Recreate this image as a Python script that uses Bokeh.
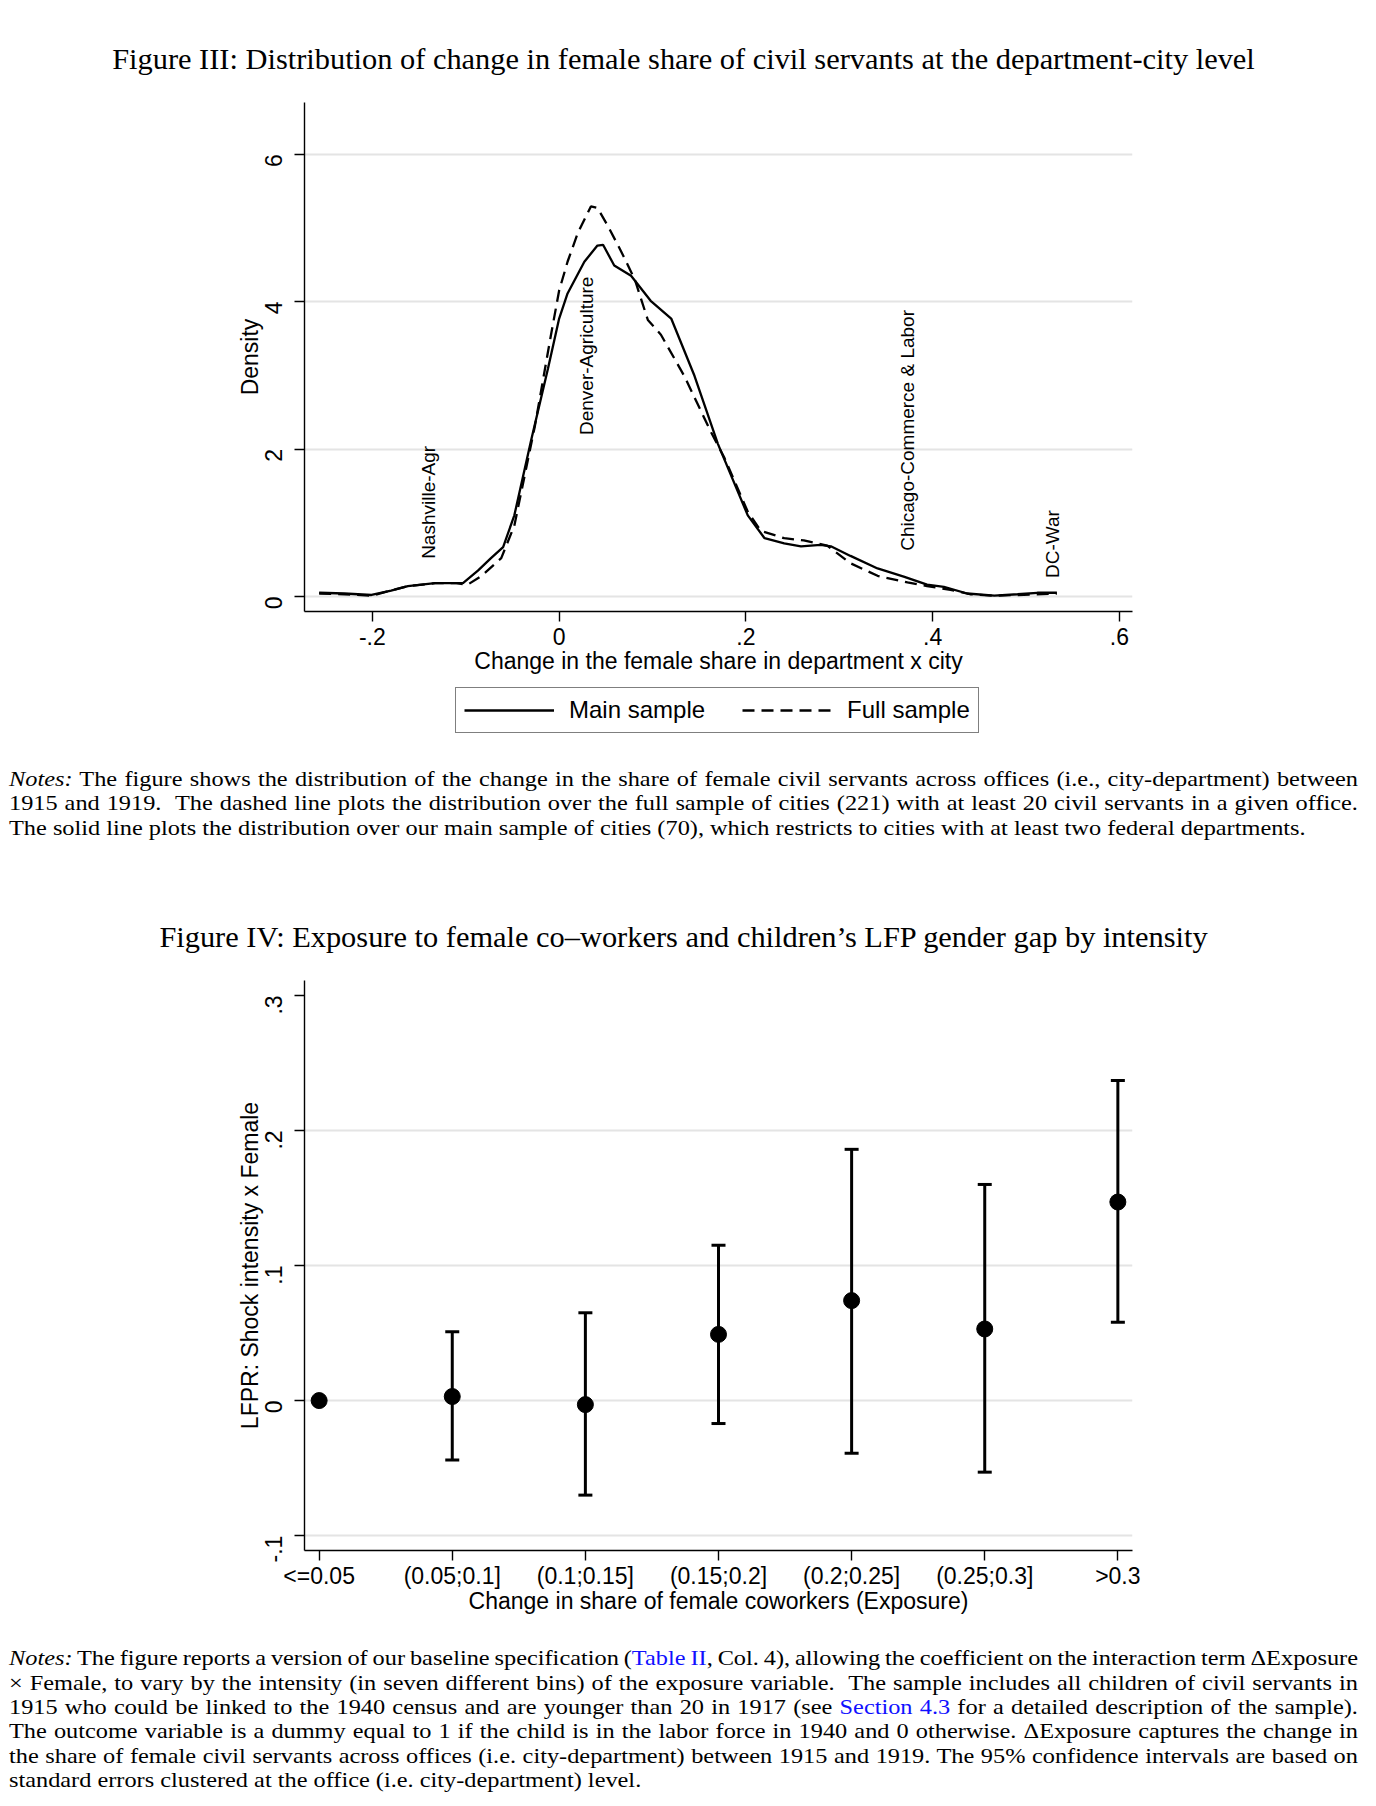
import math
import numpy as np
from bokeh.plotting import figure
from bokeh.models import (ColumnDataSource, Range1d, FixedTicker, Legend, LegendItem,
                          Whisker, TeeHead, Div)
from bokeh.layouts import column
from bokeh.core.properties import value
from bokeh.embed import file_html
from bokeh.resources import INLINE

# ---------------- Figure III data (kernel densities) ----------------
main_x = [-0.257, -0.230, -0.201, -0.180, -0.162, -0.133, -0.103, -0.087, -0.073, -0.060,
          -0.048, -0.030, -0.012, 0.000, 0.009, 0.027, 0.041, 0.047, 0.059, 0.077,
          0.098, 0.120, 0.145, 0.170, 0.202, 0.220, 0.241, 0.259, 0.280, 0.291,
          0.312, 0.341, 0.369, 0.394, 0.412, 0.437, 0.466, 0.491, 0.512, 0.533]
main_y = [0.05, 0.04, 0.02, 0.08, 0.14, 0.18, 0.18, 0.35, 0.52, 0.67,
          1.10, 2.12, 3.09, 3.77, 4.11, 4.54, 4.76, 4.77, 4.49, 4.35,
          4.01, 3.77, 2.99, 2.07, 1.10, 0.79, 0.72, 0.68, 0.70, 0.68,
          0.55, 0.38, 0.27, 0.16, 0.13, 0.04, 0.01, 0.03, 0.05, 0.05]
full_x = [-0.257, -0.230, -0.201, -0.180, -0.162, -0.133, -0.110, -0.098, -0.083, -0.062,
          -0.048, -0.026, -0.009, 0.000, 0.009, 0.020, 0.034, 0.041, 0.052, 0.066,
          0.081, 0.095, 0.109, 0.134, 0.163, 0.177, 0.202, 0.216, 0.241, 0.262,
          0.287, 0.312, 0.341, 0.373, 0.394, 0.419, 0.440, 0.466, 0.491, 0.533]
full_y = [0.04, 0.03, 0.01, 0.08, 0.14, 0.18, 0.18, 0.16, 0.28, 0.52,
          0.96, 2.31, 3.53, 4.15, 4.54, 4.93, 5.29, 5.27, 5.03, 4.69,
          4.30, 3.75, 3.55, 2.99, 2.22, 1.88, 1.15, 0.89, 0.79, 0.76,
          0.69, 0.45, 0.28, 0.19, 0.14, 0.09, 0.03, 0.01, 0.02, 0.04]
office_labels = ["Nashville-Agr", "Denver-Agriculture", "Chicago-Commerce & Labor", "DC-War"]
office_x = [-0.140, 0.029, 0.373, 0.528]
office_y = [0.51, 2.19, 0.62, 0.25]
x_ticks3 = [-0.2, 0, 0.2, 0.4, 0.6]
x_tick_labels3 = ["-.2", "0", ".2", ".4", ".6"]
y_ticks3 = [0, 2, 4, 6]
y_tick_labels3 = ["0", "2", "4", "6"]
series_names = ["Main sample", "Full sample"]

# ---------------- Figure IV data (coefficients by bin) ----------------
bins = ["<=0.05", "(0.05;0.1]", "(0.1;0.15]", "(0.15;0.2]", "(0.2;0.25]", "(0.25;0.3]", ">0.3"]
coef = [0.0, 0.003, -0.003, 0.049, 0.074, 0.053, 0.147]
ci_lo = [None, -0.044, -0.070, -0.017, -0.039, -0.053, 0.058]
ci_hi = [None, 0.051, 0.065, 0.115, 0.186, 0.160, 0.237]
y_ticks4 = [-0.1, 0, 0.1, 0.2, 0.3]
y_tick_labels4 = ["-.1", "0", ".1", ".2", ".3"]

SANS = "Liberation Sans"
SERIF = "'Liberation Serif', 'Times New Roman', serif"
GRID = "#e4e4e4"
FS = "23px"
DASH = "12 7"


def style_axes(p, x_label_standoff, x_axis_label_standoff):
    p.outline_line_color = None
    p.xgrid.visible = False
    for ax in (p.xaxis[0], p.yaxis[0]):
        ax.axis_line_width = 1.4
        ax.axis_line_color = "black"
        ax.major_tick_line_width = 1.4
        ax.major_tick_in = 0
        ax.major_tick_out = 10
        ax.minor_tick_line_color = None
        ax.major_label_text_font = SANS
        ax.major_label_text_font_size = FS
        ax.major_label_text_color = "black"
        ax.axis_label_text_font = SANS
        ax.axis_label_text_font_size = FS
        ax.axis_label_text_font_style = "normal"
        ax.axis_label_text_color = "black"
    p.xaxis[0].major_label_standoff = x_label_standoff
    p.xaxis[0].axis_label_standoff = x_axis_label_standoff
    p.yaxis[0].major_label_orientation = math.pi / 2
    p.yaxis[0].major_label_standoff = 21
    p.yaxis[0].axis_label_standoff = -9
    p.ygrid.grid_line_color = GRID
    p.ygrid.grid_line_width = 2


# ---------------- Figure III ----------------
p1 = figure(width=1360, height=595, output_backend="svg", toolbar_location=None,
            x_range=Range1d(-0.2727, 0.614), y_range=Range1d(-0.204, 6.70),
            min_border_left=295, min_border_right=236, min_border_top=12, min_border_bottom=74)
style_axes(p1, 6, 0)
p1.xaxis.ticker = FixedTicker(ticks=x_ticks3)
p1.xaxis.major_label_overrides = dict(zip(x_ticks3, x_tick_labels3))
p1.yaxis.ticker = FixedTicker(ticks=y_ticks3)
p1.yaxis.major_label_overrides = dict(zip(y_ticks3, y_tick_labels3))
p1.ygrid.ticker = FixedTicker(ticks=y_ticks3)
p1.xaxis.axis_label = "Change in the female share in department x city"
p1.yaxis.axis_label = "Density"

p1.line(main_x, main_y, line_color="black", line_width=2.3)
p1.line(full_x, full_y, line_color="black", line_width=2.3, line_dash=DASH)
p1.text(office_x, office_y, text=office_labels, angle=math.pi / 2, text_align="left",
        text_baseline="middle", text_font=value(SANS), text_font_size="19px", text_color="black")

# legend strip below Figure III (its own small canvas; its frame is aligned with Figure III's)
pl = figure(width=1360, height=70, output_backend="svg", toolbar_location=None,
            x_range=Range1d(0, 1), y_range=Range1d(0, 1),
            x_axis_location=None, y_axis_location=None, min_border=0,
            min_border_left=295, min_border_right=236)
pl.outline_line_color = None
pl.grid.visible = False
no_data = np.array([np.nan])  # legend-key renderers only; nothing is drawn in this strip
lr_main = pl.line(no_data, no_data, line_color="black", line_width=2.3)
lr_full = pl.line(no_data, no_data, line_color="black", line_width=2.3, line_dash=DASH)
legend = Legend(items=[LegendItem(label=series_names[0], renderers=[lr_main]),
                       LegendItem(label=series_names[1], renderers=[lr_full])],
                orientation="horizontal", location=(151, 22),
                glyph_width=90, glyph_height=22, label_standoff=15, spacing=37,
                padding=8, margin=0, border_line_color="black", border_line_width=1.5,
                background_fill_color="white", background_fill_alpha=1.0,
                label_text_font=SANS, label_text_font_size="24px", label_text_color="black")
pl.add_layout(legend)

# ---------------- Figure IV ----------------
xs = list(range(1, len(bins) + 1))
p2 = figure(width=1360, height=665, output_backend="svg", toolbar_location=None,
            x_range=Range1d(0.89, 7.11), y_range=Range1d(-0.111, 0.311),
            min_border_left=296, min_border_right=236, min_border_top=15, min_border_bottom=80)
style_axes(p2, 2, -4)
p2.xaxis.ticker = FixedTicker(ticks=xs)
p2.xaxis.major_label_overrides = dict(zip(xs, bins))
p2.yaxis.ticker = FixedTicker(ticks=y_ticks4)
p2.yaxis.major_label_overrides = dict(zip(y_ticks4, y_tick_labels4))
p2.ygrid.ticker = FixedTicker(ticks=[t for t in y_ticks4 if t < 0.25])
p2.xaxis.axis_label = "Change in share of female coworkers (Exposure)"
p2.yaxis.axis_label = "LFPR: Shock intensity x Female"

ci_idx = [i for i in range(len(bins)) if ci_lo[i] is not None]
ci_src = ColumnDataSource(dict(x=[xs[i] for i in ci_idx],
                               lo=[ci_lo[i] for i in ci_idx],
                               hi=[ci_hi[i] for i in ci_idx]))
p2.segment(x0="x", y0="lo", x1="x", y1="hi", source=ci_src, line_color="black", line_width=3)
wh = Whisker(base="x", lower="lo", upper="hi", source=ci_src, line_alpha=0,
             upper_head=TeeHead(size=14, line_width=3, line_color="black"),
             lower_head=TeeHead(size=14, line_width=3, line_color="black"))
p2.add_layout(wh)
p2.scatter(xs, coef, size=16, color="black")

# ---------------- Text blocks ----------------
TFS = 30.4
TLH = 36
NFS = 21
NSX = 1.158
INNER_W = 1349 / NSX


def title_div(txt, baseline_off, h):
    pad = baseline_off - ((TLH - 1.107 * TFS) / 2 + 0.891 * TFS)
    html = (f'<div style="font-family:{SERIF};font-size:{TFS}px;line-height:{TLH}px;padding-top:{pad:.1f}px;'
            f'width:1349px;margin-left:1px;text-align:center;white-space:nowrap;color:#000;">{txt}</div>')
    return Div(text=html, width=1360, height=h, margin=(0, 0, 0, 0))


def notes_div(lines, baseline_off, lh, h):
    pad = baseline_off - ((lh - 1.107 * NFS) / 2 + 0.891 * NFS)
    parts = []
    for k, ln in enumerate(lines):
        last = (k == len(lines) - 1)
        al = ("text-align:left;" if last else
              "text-align:justify;text-align-last:justify;word-spacing:-3px;")
        parts.append(f'<div style="white-space:nowrap;{al}width:{INNER_W:.1f}px;">{ln}</div>')
    html = (f'<div style="font-family:{SERIF};font-size:{NFS}px;line-height:{lh}px;padding-top:{pad:.1f}px;'
            f'margin-left:1px;color:#000;transform:scaleX({NSX});transform-origin:left top;">'
            + "".join(parts) + '</div>')
    return Div(text=html, width=1360, height=h, margin=(0, 0, 0, 0))


BLUE = '<span style="color:#1010ff;">{}</span>'
notes1 = [
    "<i>Notes:</i> The figure shows the distribution of the change in the share of female civil servants across offices (i.e., city-department) between",
    "1915 and 1919.&nbsp; The dashed line plots the distribution over the full sample of cities (221) with at least 20 civil servants in a given office.",
    "The solid line plots the distribution over our main sample of cities (70), which restricts to cities with at least two federal departments.",
]
notes2 = [
    "<i>Notes:</i> The figure reports a version of our baseline specification (" + BLUE.format("Table II") + ", Col. 4), allowing the coefficient on the interaction term &Delta;Exposure",
    "&times; Female, to vary by the intensity (in seven different bins) of the exposure variable.&nbsp; The sample includes all children of civil servants in",
    "1915 who could be linked to the 1940 census and are younger than 20 in 1917 (see " + BLUE.format("Section 4.3") + " for a detailed description of the sample).",
    "The outcome variable is a dummy equal to 1 if the child is in the labor force in 1940 and 0 otherwise. &Delta;Exposure captures the change in",
    "the share of female civil servants across offices (i.e. city-department) between 1915 and 1919. The 95% confidence intervals are based on",
    "standard errors clustered at the office (i.e. city-department) level.",
]

# page layout (content starts at page y = 8)
t1 = title_div("Figure III: Distribution of change in female share of civil servants at the department-city level", 61.3, 82)
n1 = notes_div(notes1, 31, 24.4, 95)
t2 = title_div("Figure IV: Exposure to female co&ndash;workers and children&rsquo;s LFP gender gap by intensity", 97.3, 115)
n2 = notes_div(notes2, 35.6, 24.3, 168)

layout = column(t1, p1, pl, n1, t2, p2, n2, spacing=0, margin=(8, 0, 0, 8))
open("out.html", "w").write(file_html(layout, INLINE))
